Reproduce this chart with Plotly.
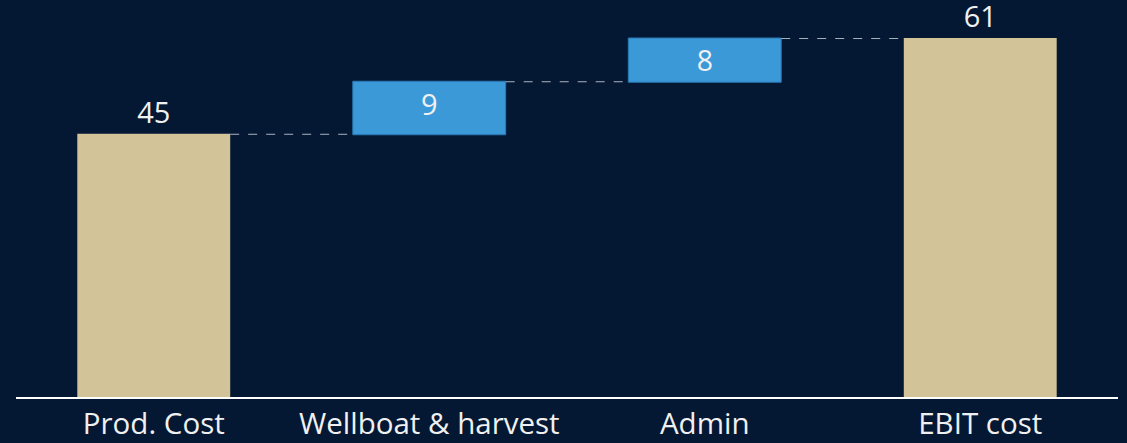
import plotly.graph_objects as go

categories = ["Prod. Cost", "Wellboat & harvest", "Admin", "EBIT cost"]
values = [45.0, 9.0, 7.4, 0]
measures = ["absolute", "relative", "relative", "total"]
value_labels = ["45", "9", "8", "61"]

BG = "#041834"
TAN = "#D3C398"
BLUE = "#3B99D8"
TXT = "#F0F0F0"

fig = go.Figure(go.Waterfall(
    x=categories,
    y=values,
    measure=measures,
    text=value_labels,
    textposition=["outside", "inside", "inside", "outside"],
    textfont=dict(family="Open Sans", size=29, color=TXT),
    insidetextfont=dict(family="Open Sans", size=29, color=TXT),
    outsidetextfont=dict(family="Open Sans", size=29, color=TXT),
    textangle=0,
    cliponaxis=False,
    increasing=dict(marker=dict(color=BLUE, line=dict(color="#2A78B4", width=1))),
    decreasing=dict(marker=dict(color=BLUE, line=dict(color="#2A78B4", width=1))),
    totals=dict(marker=dict(color=TAN, line=dict(color=TAN, width=0))),
    connector=dict(line=dict(color="#A9B2C0", width=1, dash="dash")),
    hoverinfo="skip",
))

fig.update_layout(
    width=1127, height=443,
    margin=dict(l=16, r=9, t=0, b=41),
    paper_bgcolor=BG, plot_bgcolor=BG,
    waterfallgap=0.445,
    showlegend=False,
    xaxis=dict(
        range=[-0.5, 3.5],
        showline=True, linecolor="#FFFFFF", linewidth=2,
        showgrid=False, zeroline=False, ticks="",
        tickfont=dict(family="Open Sans", size=29.5, color=TXT),
    ),
    yaxis=dict(
        range=[0, 68.0], visible=False, showgrid=False, zeroline=False,
    ),
)

fig.write_html(
    "out.html",
    config={"displayModeBar": False},
    post_script="document.body.style.margin='0';document.body.style.overflow='hidden';document.body.style.background='%s';" % BG,
)
